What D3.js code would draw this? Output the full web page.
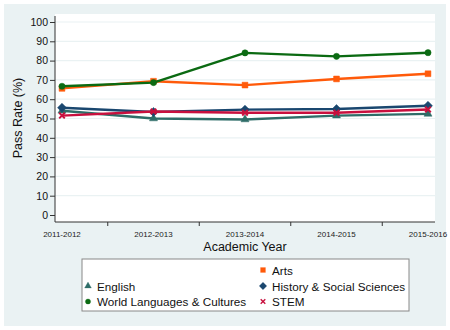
<!DOCTYPE html>
<html>
<head>
<meta charset="utf-8">
<script src="https://cdn.jsdelivr.net/npm/d3@7"></script>
<style>
  body { margin: 0; background: #fff; }
  svg { display: block; font-family: "Liberation Sans", Arial, sans-serif; }
</style>
</head>
<body>
<svg id="chart" width="450" height="330"></svg>
<script>
// Academic years and pass rates (%) per department
const years = ["2011-2012", "2012-2013", "2013-2014", "2014-2015", "2015-2016"];
const arts    = [65.6, 69.3, 67.3, 70.5, 73.2];
const english = [54.0, 50.0, 49.5, 51.5, 52.4];
const history = [55.6, 53.4, 54.6, 54.9, 56.6];
const world   = [66.7, 68.6, 84.0, 82.2, 84.1];
const stem    = [51.5, 53.6, 53.0, 53.0, 54.7];
const yTicks  = d3.range(0, 101, 10);

// diamond drawn as a rotated square
const diamond = {
  draw(ctx, size) {
    const r = Math.sqrt(size / 2);
    ctx.moveTo(0, -r); ctx.lineTo(r, 0); ctx.lineTo(0, r); ctx.lineTo(-r, 0); ctx.closePath();
  }
};

const series = [
  {name: "Arts", values: arts, color: "#ff5a0a", symbol: d3.symbolSquare, size: 34},
  {name: "English", values: english, color: "#2e6d68", symbol: d3.symbolTriangle, size: 28},
  {name: "History & Social Sciences", values: history, color: "#1a476f", symbol: diamond, size: 40},
  {name: "World Languages & Cultures", values: world, color: "#0b6a12", symbol: d3.symbolCircle, size: 30},
  {name: "STEM", values: stem, color: "#c8103e", symbol: d3.symbolX, size: 22}
];

const svg = d3.select("#chart");

// outer panel
svg.append("rect").attr("x", 4).attr("y", 4).attr("width", 442).attr("height", 322)
  .attr("fill", "#eaf2f3");

const plot = {left: 55, right: 435, top: 14, bottom: 222};
svg.append("rect").attr("x", plot.left).attr("y", plot.top)
  .attr("width", plot.right - plot.left).attr("height", plot.bottom - plot.top)
  .attr("fill", "#fff");

const x = d3.scalePoint().domain(years).range([62, 428]);
const y = d3.scaleLinear().domain([0, 100]).range([215, 22]);

// horizontal grid
svg.append("g").selectAll("line").data(yTicks.filter(d => d > 0)).join("line")
  .attr("x1", plot.left).attr("x2", plot.right)
  .attr("y1", d => y(d)).attr("y2", d => y(d))
  .attr("stroke", "#eaf2f3").attr("stroke-width", 1.2);

// y axis
const yAxis = svg.append("g").attr("transform", `translate(${plot.left},0)`)
  .call(d3.axisLeft(y).tickValues(yTicks).tickSize(5).tickPadding(2));
yAxis.select(".domain").attr("d", `M0,${plot.top + 2}V${plot.bottom}`).attr("stroke", "#333");
yAxis.selectAll(".tick line").attr("stroke", "#333");
yAxis.selectAll("text").attr("font-size", 10.5).attr("fill", "#111")
  .attr("font-family", "Liberation Sans, Arial, sans-serif");

// x axis: labels at categories, ticks between them
const step = x.step();
const xAxis = svg.append("g").attr("transform", `translate(0,${plot.bottom})`);
xAxis.append("line").attr("x1", plot.left).attr("x2", plot.right)
  .attr("stroke", "#333");
xAxis.selectAll(".tk").data(years.slice(1)).join("line")
  .attr("x1", d => x(d) - step / 2).attr("x2", d => x(d) - step / 2)
  .attr("y1", 0).attr("y2", 4).attr("stroke", "#333");
xAxis.selectAll("text").data(years).join("text")
  .attr("x", d => x(d)).attr("y", 15)
  .attr("text-anchor", "middle").attr("font-size", 8).attr("fill", "#222")
  .text(d => d);

// axis titles
svg.append("text").attr("transform", "translate(22,118) rotate(-90)")
  .attr("text-anchor", "middle").attr("font-size", 12.5).attr("fill", "#111")
  .text("Pass Rate (%)");
svg.append("text").attr("x", 245).attr("y", 251)
  .attr("text-anchor", "middle").attr("font-size", 12.5).attr("fill", "#111")
  .text("Academic Year");

// lines and markers
const line = d3.line().x((d, i) => x(years[i])).y(d => y(d));
const drawOrder = [series[1], series[2], series[4], series[0], series[3]];
drawOrder.forEach(s => {
  svg.append("path").datum(s.values)
    .attr("d", line).attr("fill", "none")
    .attr("stroke", s.color).attr("stroke-width", 2.4).attr("stroke-linejoin", "round");
  svg.append("g").selectAll("path").data(s.values).join("path")
    .attr("transform", (d, i) => `translate(${x(years[i])},${y(d)})`)
    .attr("d", d3.symbol().type(s.symbol).size(s.size))
    .attr("fill", s.color).attr("stroke", s.color)
    .attr("stroke-width", s.symbol === d3.symbolX ? 2 : 0.5);
});

// legend
const legend = svg.append("g");
legend.append("rect").attr("x", 82).attr("y", 259).attr("width", 327).attr("height", 52)
  .attr("fill", "#fff").attr("stroke", "#888").attr("stroke-width", 1);
const legendPos = [
  {s: series[0], x: 263, y: 270},
  {s: series[1], x: 88, y: 286},
  {s: series[2], x: 263, y: 286},
  {s: series[3], x: 88, y: 301.5},
  {s: series[4], x: 263, y: 301.5}
];
legendPos.forEach(p => {
  legend.append("path")
    .attr("transform", `translate(${p.x},${p.y})`)
    .attr("d", d3.symbol().type(p.s.symbol).size(p.s.size * 0.7))
    .attr("fill", p.s.color).attr("stroke", p.s.color)
    .attr("stroke-width", p.s.symbol === d3.symbolX ? 1.4 : 0.3);
  legend.append("text").attr("x", p.x + 9).attr("y", p.y + 4.5)
    .attr("font-size", 11.7).attr("fill", "#111").text(p.s.name);
});
</script>
</body>
</html>
